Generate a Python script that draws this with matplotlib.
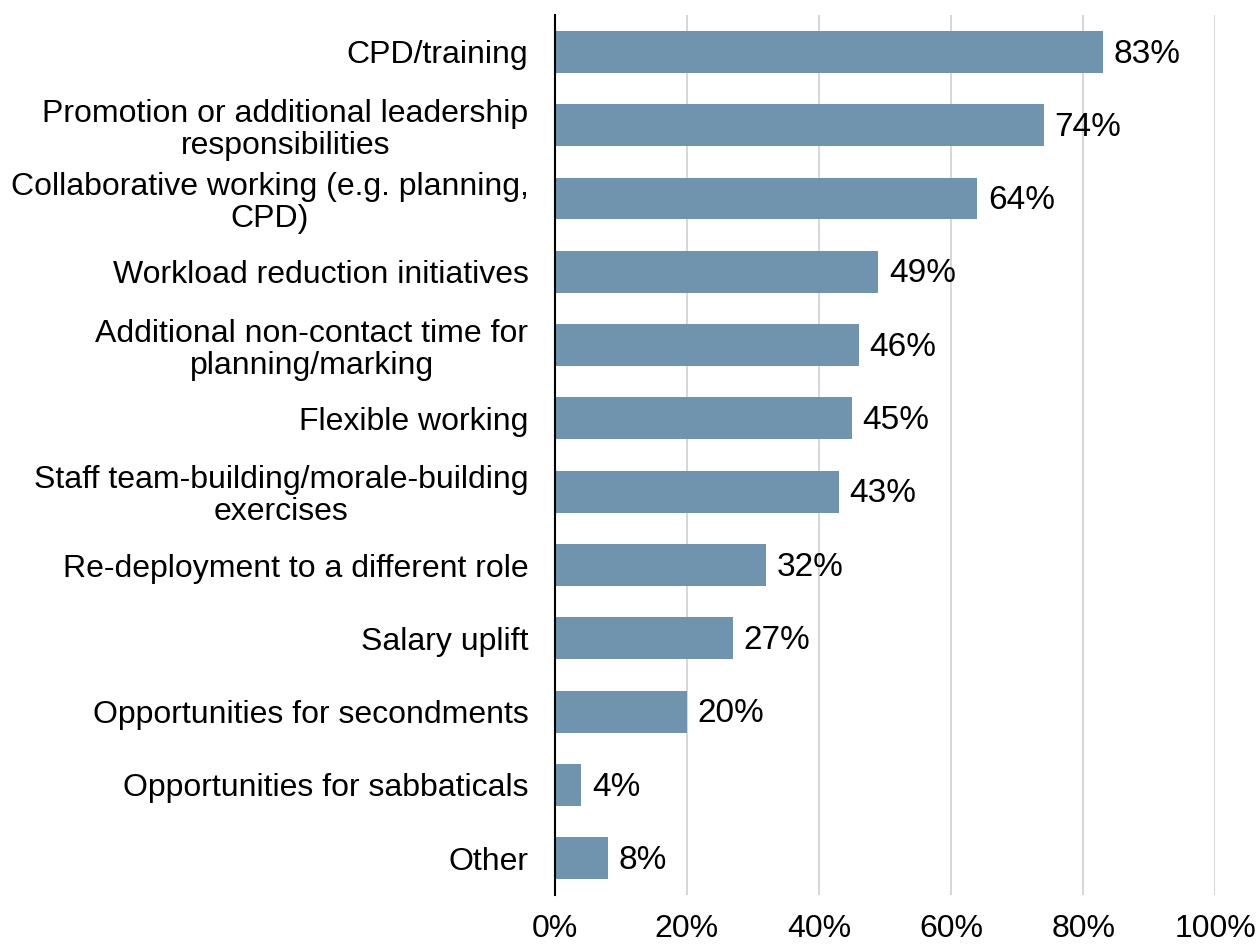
import matplotlib
matplotlib.use("Agg")
import matplotlib.pyplot as plt
from matplotlib.ticker import PercentFormatter

plt.rcParams['font.family'] = ['Liberation Sans', 'DejaVu Sans']

categories = [
    "CPD/training",
    "Promotion or additional leadership\nresponsibilities",
    "Collaborative working (e.g. planning,\nCPD)",
    "Workload reduction initiatives",
    "Additional non-contact time for\nplanning/marking",
    "Flexible working",
    "Staff team-building/morale-building\nexercises",
    "Re-deployment to a different role",
    "Salary uplift",
    "Opportunities for secondments",
    "Opportunities for sabbaticals",
    "Other",
]
values = [83, 74, 64, 49, 46, 45, 43, 32, 27, 20, 4, 8]
xticks = [0, 20, 40, 60, 80, 100]

fig = plt.figure(figsize=(12.58, 9.47), dpi=100, facecolor="#FFFFFF")
ax = fig.add_axes([0.441, 0.055, 0.525, 0.929])

pos = list(range(len(categories)))
bars = ax.barh(pos, values, height=0.57, color="#7094AD")

for b, v in zip(bars, values):
    ax.text(b.get_width() + 1.6, b.get_y() + b.get_height() / 2 + 0.03, f"{v}%",
            va="center", ha="left", fontsize=24, color="#000000")

ax.set_yticks(pos)
ax.set_yticklabels(categories, fontsize=23, multialignment="center",
                   linespacing=1.1)
ax.set_ylim(11.5, -0.5)
ax.set_xlim(0, 100)
ax.set_xticks(xticks)
ax.xaxis.set_major_formatter(PercentFormatter(decimals=0))
ax.tick_params(axis="x", labelsize=23, length=0, pad=14)
ax.tick_params(axis="y", length=0, pad=19)

ax.grid(axis="x", color="#D0D0D0", linewidth=1.2)
ax.set_axisbelow(True)
for s in ["top", "right", "bottom"]:
    ax.spines[s].set_visible(False)
ax.spines["left"].set_linewidth(1.5)
ax.spines["left"].set_color("#000000")

fig.savefig("out.png", dpi=100)
